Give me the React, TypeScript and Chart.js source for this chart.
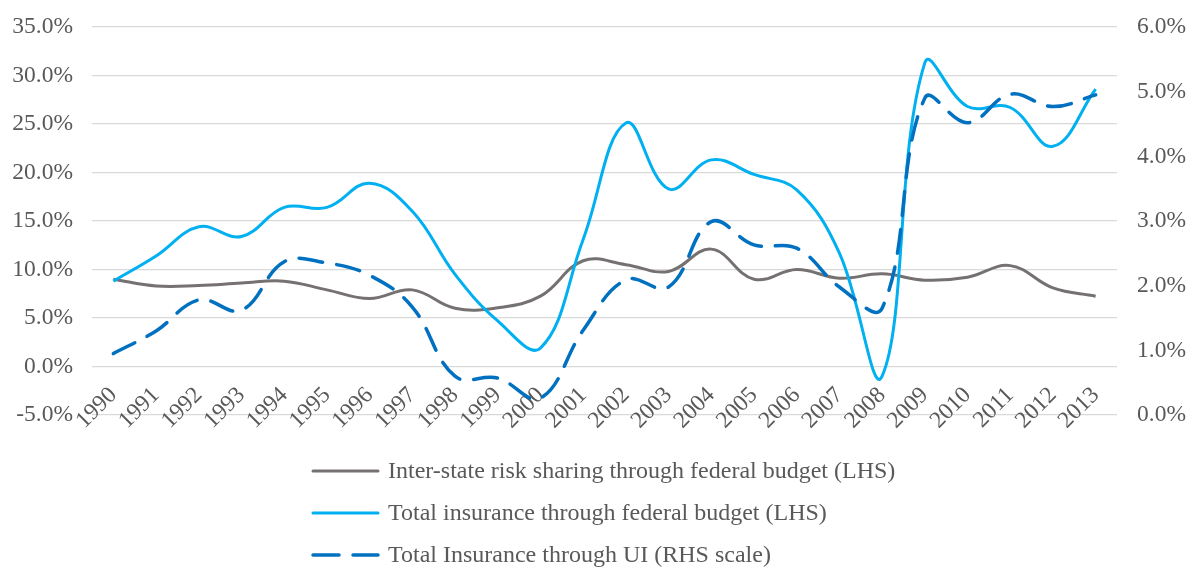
import React, { useEffect, useRef } from "react";
import { Chart, registerables } from "chart.js";

Chart.register(...registerables);

const years = ["1990","1991","1992","1993","1994","1995","1996","1997","1998","1999","2000","2001","2002","2003","2004","2005","2006","2007","2008","2009","2010","2011","2012","2013"];

const interState = [9.0, 8.3, 8.35, 8.6, 8.8, 7.9, 7.0, 7.9, 6.0, 6.05, 7.25, 10.9, 10.5, 9.8, 12.1, 9.0, 10.0, 9.1, 9.55, 8.9, 9.2, 10.4, 8.1, 7.25];
const totalFederal = [8.8, 11.4, 14.4, 13.4, 16.4, 16.4, 18.9, 16.0, 9.5, 4.7, 1.9, 13.1, 25.1, 18.3, 21.3, 19.8, 18.2, 11.7, -1.0, 31.3, 26.8, 26.7, 22.7, 28.6];
const totalUI = [0.95, 1.3, 1.78, 1.62, 2.37, 2.35, 2.16, 1.67, 0.6, 0.57, 0.26, 1.31, 2.09, 1.98, 2.99, 2.63, 2.58, 1.98, 1.65, 4.9, 4.52, 4.96, 4.77, 4.95];

const seriesLabels = [
  "Inter-state risk sharing through federal budget (LHS)",
  "Total insurance through federal budget (LHS)",
  "Total Insurance through UI (RHS scale)",
];

const FONT = "'Liberation Serif', 'Times New Roman', serif";
const TEXT = "#595959";
const TICK_SIZE = 23.5;

const legendPlugin = {
  id: "stackedLegend",
  afterDraw(chart: any) {
    const ctx = chart.ctx;
    const ds = chart.data.datasets;
    const x0 = 311, lineLen = 69, textX = 388;
    const rows = [471, 513, 555];
    ctx.save();
    ctx.font = `24px ${FONT}`;
    ctx.fillStyle = TEXT;
    ctx.textBaseline = "middle";
    ctx.textAlign = "left";
    ds.forEach((d: any, i: number) => {
      const y = rows[i];
      ctx.beginPath();
      ctx.strokeStyle = d.borderColor;
      ctx.lineWidth = d.borderWidth;
      ctx.lineCap = "round";
      if (d.borderDash && d.borderDash.length) {
        ctx.setLineDash([26, 14]);
      } else {
        ctx.setLineDash([]);
      }
      ctx.moveTo(x0 + 2, y);
      ctx.lineTo(x0 + lineLen - 2, y);
      ctx.stroke();
      ctx.setLineDash([]);
      ctx.fillText(d.label, textX, y + 1);
    });
    ctx.restore();
  },
};

export default function App() {
  const ref = useRef<HTMLCanvasElement | null>(null);
  useEffect(() => {
    document.body.style.margin = "0";
    const canvas = ref.current!;
    const chart = new Chart(canvas, {
      type: "line",
      data: {
        labels: years,
        datasets: [
          {
            label: seriesLabels[0],
            data: interState,
            borderColor: "#767171",
            backgroundColor: "#767171",
            borderWidth: 3,
            pointRadius: 0,
            tension: 0.4,
            yAxisID: "y",
            order: 3,
          },
          {
            label: seriesLabels[1],
            data: totalFederal,
            borderColor: "#00B0F0",
            backgroundColor: "#00B0F0",
            borderWidth: 3,
            pointRadius: 0,
            tension: 0.4,
            yAxisID: "y",
            order: 2,
          },
          {
            label: seriesLabels[2],
            data: totalUI,
            borderColor: "#0070C0",
            backgroundColor: "#0070C0",
            borderWidth: 3.5,
            borderDash: [24, 14],
            borderCapStyle: "round",
            pointRadius: 0,
            tension: 0.4,
            yAxisID: "y1",
            order: 1,
          },
        ],
      },
      options: {
        animation: false,
        responsive: false,
        maintainAspectRatio: false,
        layout: { padding: { top: 27, bottom: 154, left: 0, right: 0 } },
        plugins: { legend: { display: false }, tooltip: { enabled: false } },
        scales: {
          x: {
            type: "category",
            offset: true,
            position: { y: 0 } as any,
            grid: { display: false, drawTicks: false },
            border: { display: false },
            ticks: {
              autoSkip: false,
              minRotation: 45,
              maxRotation: 45,
              padding: 15,
              color: TEXT,
              font: { family: FONT, size: TICK_SIZE },
            },
            afterFit: (s: any) => { s.paddingTop = 0; s.paddingBottom = 0; },
          },
          y: {
            position: "left",
            min: -5,
            max: 35,
            grid: { color: "#D9D9D9", lineWidth: 1.3, drawTicks: false },
            border: { display: false },
            ticks: {
              stepSize: 5,
              padding: 19,
              color: TEXT,
              font: { family: FONT, size: TICK_SIZE },
              callback: (v: any) => `${Number(v).toFixed(1)}%`,
            },
            afterFit: (s: any) => { s.width = 92; s.paddingTop = 0; s.paddingBottom = 0; },
          },
          y1: {
            position: "right",
            min: 0,
            max: 6,
            grid: { display: false, drawTicks: false },
            border: { display: false },
            ticks: {
              stepSize: 1,
              padding: 20,
              color: TEXT,
              font: { family: FONT, size: TICK_SIZE },
              callback: (v: any) => `${Number(v).toFixed(1)}%`,
            },
            afterFit: (s: any) => { s.width = 71; s.paddingTop = 0; s.paddingBottom = 0; },
          },
        },
      },
      plugins: [legendPlugin],
    });
    return () => chart.destroy();
  }, []);
  return (
    <div style={{ width: 1188, height: 569, background: "#fff" }}>
      <canvas ref={ref} width={1188} height={569} style={{ display: "block" }} />
    </div>
  );
}
